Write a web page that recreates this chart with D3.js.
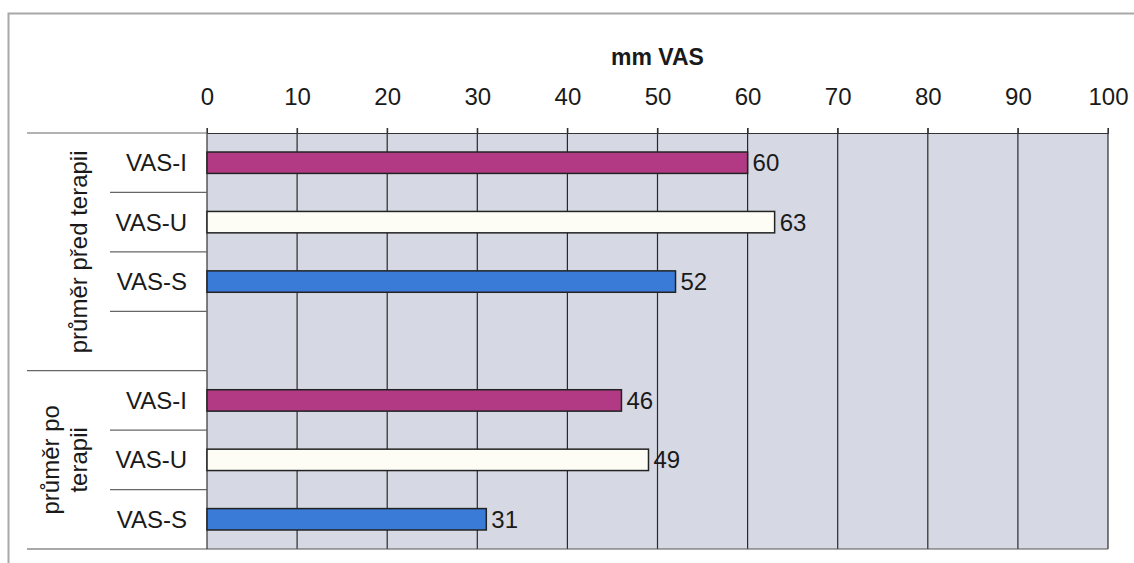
<!DOCTYPE html>
<html>
<head>
<meta charset="utf-8">
<script src="https://cdn.jsdelivr.net/npm/d3@7"></script>
<style>
  body { margin: 0; background: #fff; }
  svg { display: block; font-family: "Liberation Sans", Arial, sans-serif; }
</style>
</head>
<body>
<div id="chart"></div>
<script>
// data
const rows = ["a-I", "a-U", "a-S", "a-blank", "b-I", "b-U", "b-S"];
const rowLabels = ["VAS-I", "VAS-U", "VAS-S", "", "VAS-I", "VAS-U", "VAS-S"];
const rowSeries = ["I", "U", "S", null, "I", "U", "S"];
const values = [60, 63, 52, null, 46, 49, 31];
const groups = [
  { name: ["průměr před terapii"], first: "a-I", last: "a-blank" },
  { name: ["průměr po", "terapii"], first: "b-I", last: "b-S" }
];
const ticks = [0, 10, 20, 30, 40, 50, 60, 70, 80, 90, 100];
const seriesColor = { I: "#b23a84", U: "#fdfdf6", S: "#3a7bd8" };

const width = 1134, height = 563;
const margin = { left: 207, right: 26, top: 133, bottom: 14 };
const fs = "24px";

const svg = d3.select("#chart").append("svg")
  .attr("width", width).attr("height", height);

// outer frame (only top and left edges visible in the scan)
svg.append("path")
  .attr("d", `M8.5,${height} V13.5 H${width}`)
  .attr("fill", "none").attr("stroke", "#a8a8a8").attr("stroke-width", 2);

const x = d3.scaleLinear().domain([0, 100]).range([margin.left, width - margin.right]);
const y = d3.scaleBand().domain(rows).range([margin.top, height - margin.bottom]);

// plot background
svg.append("rect")
  .attr("x", x(0)).attr("y", y.range()[0])
  .attr("width", x(100) - x(0)).attr("height", y.range()[1] - y.range()[0])
  .attr("fill", "#d6d9e3");

// gridlines
svg.append("g").selectAll("line").data(ticks.slice(1)).join("line")
  .attr("x1", d => x(d)).attr("x2", d => x(d))
  .attr("y1", margin.top - 5).attr("y2", y.range()[1])
  .attr("stroke", "#2a2a2a").attr("stroke-width", 1.2);

// top axis
const axis = svg.append("g")
  .attr("transform", `translate(0,${margin.top})`)
  .call(d3.axisTop(x).tickValues(ticks).tickSize(5).tickPadding(23));
axis.select(".domain").attr("stroke", "#333");
axis.selectAll(".tick line").attr("stroke", "#333");
axis.selectAll(".tick text")
  .attr("fill", "#1a1a1a").style("font-size", fs);

// axis title
svg.append("text")
  .attr("x", x(50)).attr("y", 65)
  .attr("text-anchor", "middle")
  .attr("font-weight", "bold").style("font-size", "23px").attr("fill", "#1a1a1a")
  .text("mm VAS");

// bottom edge and left axis line
svg.append("line")
  .attr("x1", 27).attr("x2", x(100))
  .attr("y1", y.range()[1]).attr("y2", y.range()[1])
  .attr("stroke", "#555").attr("stroke-width", 1.2);
svg.append("line")
  .attr("x1", x(0)).attr("x2", x(0))
  .attr("y1", margin.top - 5).attr("y2", y.range()[1])
  .attr("stroke", "#333").attr("stroke-width", 1.2);

// category separators
const boundaries = rows.slice(1).map(r => y(r));
const groupStarts = new Set(groups.map(g => y(g.first)));
svg.append("g").selectAll("line").data([margin.top, ...boundaries]).join("line")
  .attr("x1", d => groupStarts.has(d) ? 27 : 110)
  .attr("x2", x(0))
  .attr("y1", d => d).attr("y2", d => d)
  .attr("stroke", "#666").attr("stroke-width", 1.2);

// bars
const barH = y.bandwidth() * 0.36;
const barData = rows.map((r, i) => ({ row: r, v: values[i], s: rowSeries[i] })).filter(d => d.v != null);
svg.append("g").selectAll("rect").data(barData).join("rect")
  .attr("x", x(0))
  .attr("y", d => y(d.row) + (y.bandwidth() - barH) / 2)
  .attr("width", d => x(d.v) - x(0))
  .attr("height", barH)
  .attr("fill", d => seriesColor[d.s])
  .attr("stroke", "#222").attr("stroke-width", 1.5);

// value labels
svg.append("g").selectAll("text").data(barData).join("text")
  .attr("x", d => x(d.v) + 5)
  .attr("y", d => y(d.row) + y.bandwidth() / 2)
  .attr("dy", "0.35em")
  .style("font-size", fs).attr("fill", "#1a1a1a")
  .text(d => d.v);

// row labels
svg.append("g").selectAll("text").data(rows).join("text")
  .attr("x", 187)
  .attr("y", d => y(d) + y.bandwidth() / 2)
  .attr("dy", "0.35em")
  .attr("text-anchor", "end")
  .style("font-size", fs).attr("fill", "#1a1a1a")
  .text((d, i) => rowLabels[i]);

// group labels (rotated)
groups.forEach(g => {
  const cy = (y(g.first) + y(g.last) + y.bandwidth()) / 2;
  const lh = 28;
  const n = g.name.length;
  const t = svg.append("text")
    .attr("transform", `translate(${87 - (n - 1) * lh},${cy}) rotate(-90)`)
    .attr("text-anchor", "middle")
    .style("font-size", fs).attr("fill", "#1a1a1a");
  g.name.forEach((line, i) => {
    t.append("tspan").attr("x", 0).attr("y", i * lh).text(line);
  });
});
</script>
</body>
</html>
